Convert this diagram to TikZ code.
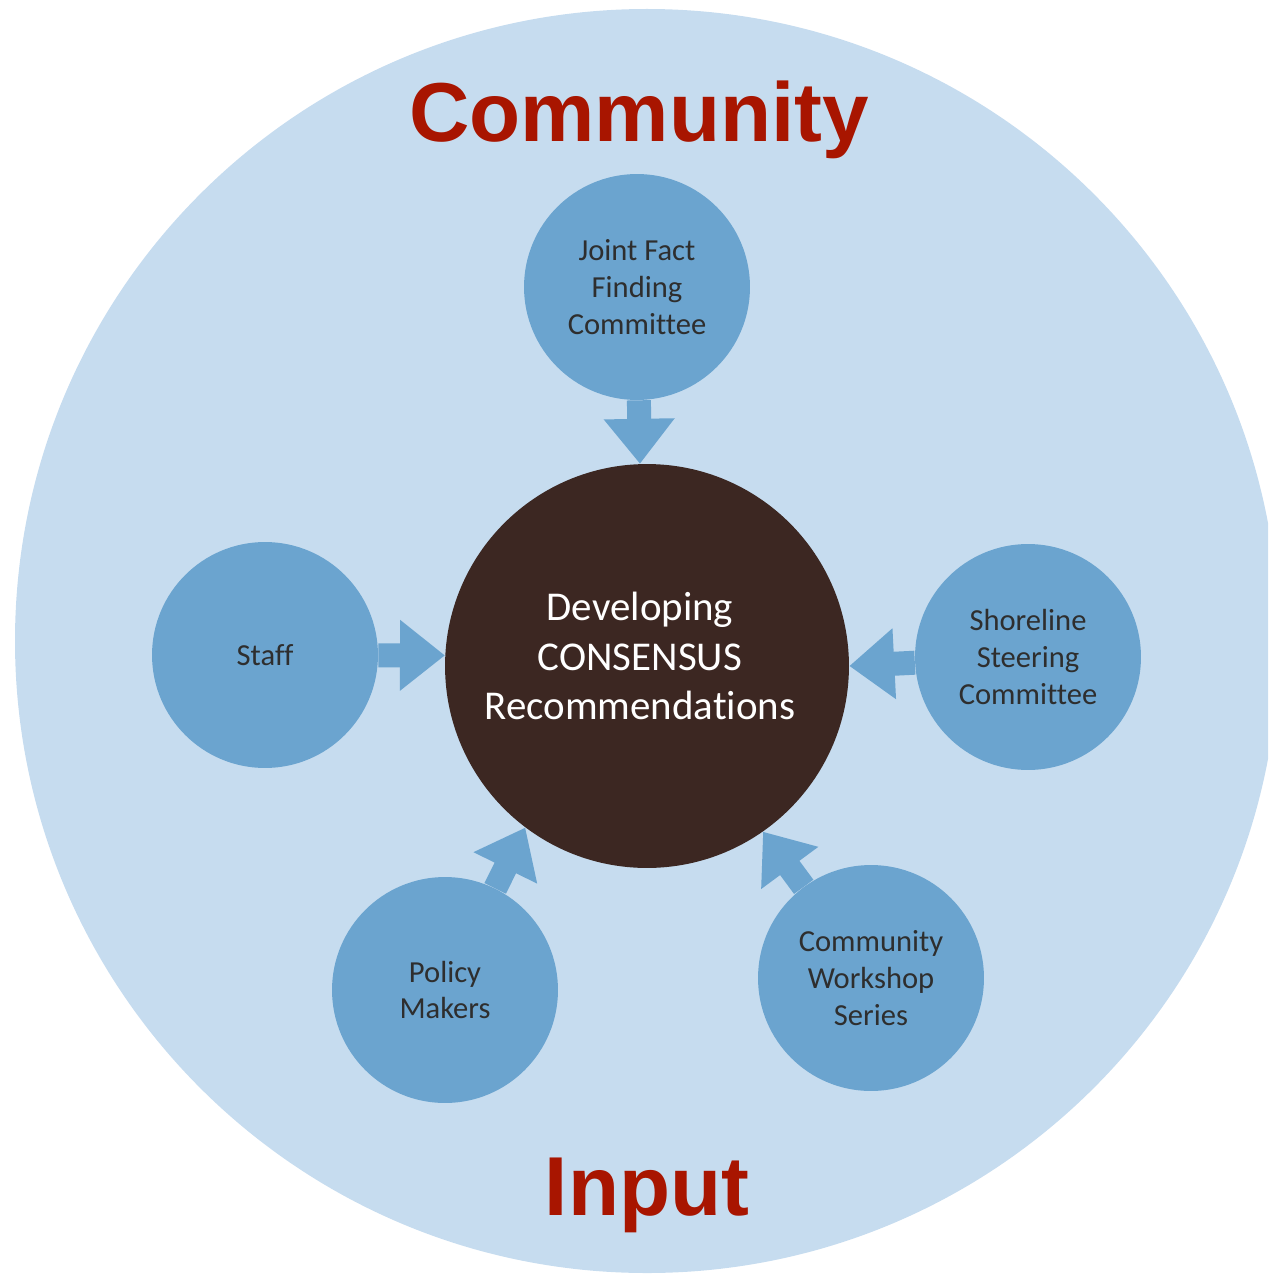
\documentclass[tikz,border=0pt]{standalone}
\usepackage{fontspec}
\setmainfont[Ligatures=NoCommon]{Carlito}
\newfontfamily\titlefont{Liberation Sans}
\usetikzlibrary{arrows.meta}
\definecolor{bgblue}{HTML}{C6DCEF}
\definecolor{nodeblue}{HTML}{6BA4CF}
\definecolor{hubbrown}{HTML}{3C2722}
\definecolor{titlered}{HTML}{A81500}
\definecolor{labelgray}{HTML}{2E2E2E}

\begin{document}
\begin{tikzpicture}[x=0.02cm,y=-0.02cm,
  input node/.style={circle,fill=nodeblue,minimum size=4.52cm,inner sep=0pt,align=center,
    text=labelgray,font=\fontsize{17.4}{21}\selectfont},
  hub node/.style={circle,fill=hubbrown,minimum size=8.08cm,inner sep=0pt},
  hub text/.style={align=center,text=white,font=\fontsize{23.3}{28}\selectfont,
    xshift=-0.14cm,yshift=0.2cm},
  flow/.style={draw=nodeblue,line width=0.48cm,-{Triangle[length=0.9cm,width=1.36cm]}},
  title/.style={anchor=base,text=titlered,font=\titlefont\bfseries\fontsize{47.6}{57}\selectfont}]

  \useasboundingbox (0,0) rectangle (1268,1277);
  \begin{scope}
    \clip (0,0) rectangle (1268,1277);
    \fill[bgblue] (647,641) circle[radius=632];
  \end{scope}

  \node[title] (top title) at (639,142) {Community};
  \node[title] (bottom title) at (647,1215) {Input};

  \node[hub node,label={[hub text]center:Developing\\CONSENSUS\\Recommendations}] (hub) at (647,666) {};
  \node[input node] (jff) at (637,287) {Joint Fact\\Finding\\Committee};
  \node[input node] (staff) at (265,655) {Staff};
  \node[input node] (shore) at (1028,657) {Shoreline\\Steering\\Committee};
  \node[input node] (policy) at (445,990) {Policy\\Makers};
  \node[input node] (workshop) at (871,978) {Community\\Workshop\\Series};

  \path
    (jff) edge[flow] (hub.92)
    (staff) edge[flow] (hub.177)
    (shore) edge[flow] (hub.0)
    (policy) edge[flow] (hub.233)
    (workshop) edge[flow] (hub.305) ;

\end{tikzpicture}
\end{document}
